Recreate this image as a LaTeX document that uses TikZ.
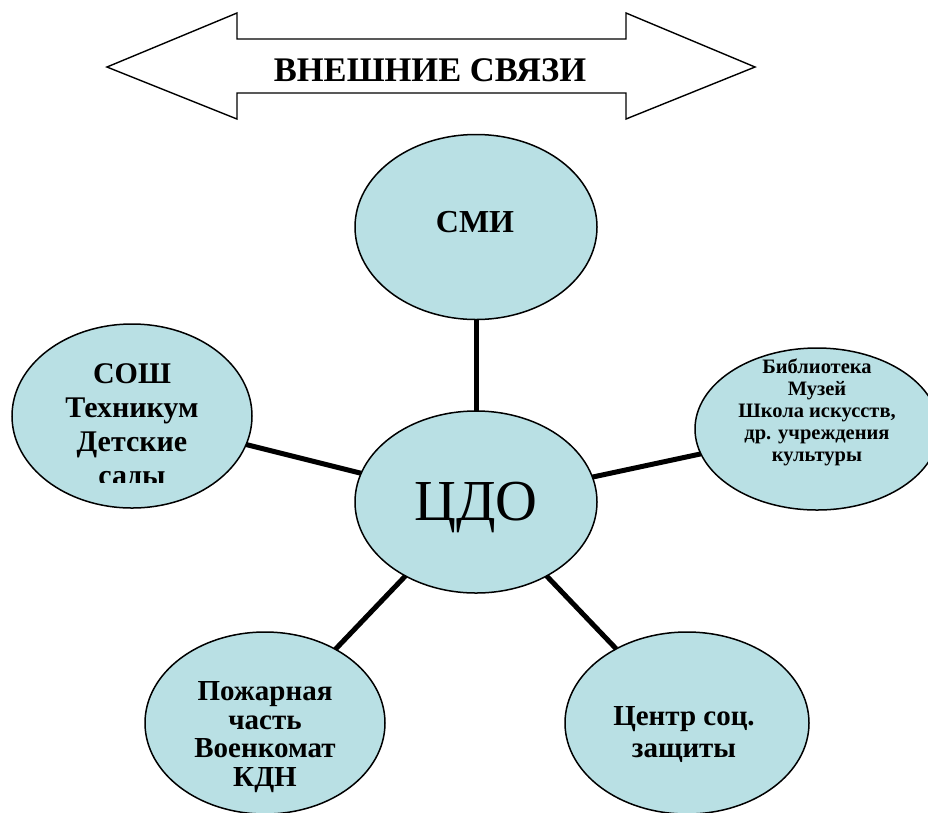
\documentclass[tikz,border=0pt]{standalone}
\usepackage{fontspec}
\setmainfont{Liberation Serif}
\usetikzlibrary{shapes.geometric}
\definecolor{bubblefill}{RGB}{185,224,228}

\begin{document}
\begin{tikzpicture}[x=1pt,y=-1pt,
    bubble/.style={ellipse,draw,line width=1.5pt,fill=bubblefill,inner sep=0pt,outer sep=0pt},
    bubbletext/.style={font=\bfseries\fontsize{30}{34}\selectfont,align=center,inner sep=0pt},
    link/.style={line width=5pt}]
  \clip (0,0) rectangle (928,812);
  % double arrow on top
  \draw[line width=1.4pt,line join=miter] (107,67) -- (237,13) -- (237,39) -- (626,39)
    -- (626,13) -- (755,67) -- (626,119) -- (626,93) -- (237,93) -- (237,119) -- cycle;
  \node[font=\bfseries\fontsize{34.5}{36}\selectfont,anchor=base] (title) at (430,81) {ВНЕШНИЕ СВЯЗИ};

  % ellipses
  \node[bubble,minimum width=242pt,minimum height=185pt] (smi) at (476,227) {};
  \node[bubble,minimum width=242pt,minimum height=182pt] (cdo) at (476,502) {};
  \node[bubble,minimum width=240pt,minimum height=184pt] (school) at (132,416) {};
  \node[bubble,minimum width=244pt,minimum height=162pt] (culture) at (817,429) {};
  \node[bubble,minimum width=240pt,minimum height=182pt] (fire) at (265,723) {};
  \node[bubble,minimum width=244pt,minimum height=182pt] (social) at (687,723) {};

  % links
  \draw[link] (cdo) -- (smi);
  \draw[link] (cdo) -- (school);
  \draw[link] (cdo) -- (culture);
  \draw[link] (cdo) -- (fire);
  \draw[link] (cdo) -- (social);

  % labels
  \node[bubbletext,font=\bfseries\fontsize{32}{34}\selectfont,anchor=base] (smilabel) at (475,232) {СМИ};
  \node[font=\fontsize{58}{60}\selectfont,inner sep=0pt,anchor=base] (cdolabel) at (476,520) {ЦДО};
  \begin{scope}
    \clip (0,300) rectangle (260,482);
    \node[bubbletext] (schoollabel) at (132,427) {СОШ\\Техникум\\Детские\\сады};
  \end{scope}
  \node[bubbletext,font=\bfseries\fontsize{20.5}{22}\selectfont] (culturelabel) at (817,412)
    {Библиотека\\Музей\\Школа искусств,\\др. учреждения\\культуры};
  \node[bubbletext,font=\bfseries\fontsize{29}{28.5}\selectfont] (firelabel) at (265,737)
    {Пожарная\\часть\\Военкомат\\КДН};
  \node[bubbletext,font=\bfseries\fontsize{29}{32}\selectfont] (sociallabel) at (684,735)
    {Центр соц.\\защиты};
\end{tikzpicture}
\end{document}
